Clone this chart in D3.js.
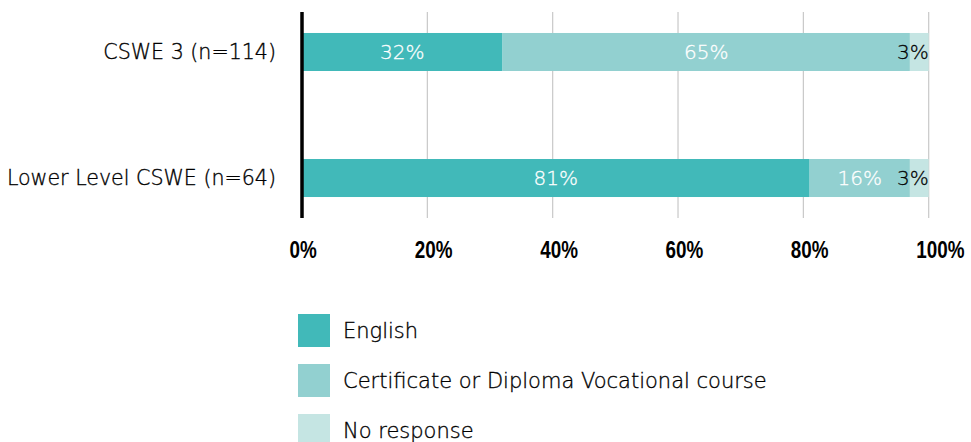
<!DOCTYPE html>
<html>
<head>
<meta charset="utf-8">
<script src="https://cdn.jsdelivr.net/npm/d3@7"></script>
<style>
  html, body { margin: 0; padding: 0; background: #fff; }
  svg { display: block; }
</style>
</head>
<body>
<svg id="chart" width="971" height="442"></svg>
<script>
// Study pathway by CSWE level (percent of respondents)
const categories = ["CSWE 3 (n=114)", "Lower Level CSWE (n=64)"];
const seriesNames = ["English", "Certificate or Diploma Vocational course", "No response"];
const english = [32, 81];
const vocational = [65, 16];
const noResponse = [3, 3];
const tickValues = [0, 20, 40, 60, 80, 100];
const tickLabels = ["0%", "20%", "40%", "60%", "80%", "100%"];
const colors = ["#41b9b9", "#92d0d0", "#c5e5e3"];

const labelFont = "'DejaVu Sans', 'Noto Sans', sans-serif";
const tickFont = "'Liberation Sans', Arial, sans-serif";

const svg = d3.select("#chart");

const rows = categories.map((c, i) => ({
  category: c,
  English: english[i],
  "Certificate or Diploma Vocational course": vocational[i],
  "No response": noResponse[i]
}));

const stacked = d3.stack().keys(seriesNames)(rows);

const x = d3.scaleLinear().domain([0, 100]).range([302, 928.7]);
const y = d3.scaleBand()
  .domain(categories)
  .range([12, 218])
  .paddingInner(88 / 126)
  .paddingOuter(0.1665);

// vertical gridlines
svg.append("g")
  .selectAll("line")
  .data(tickValues.filter(v => v > 0))
  .join("line")
  .attr("x1", d => x(d)).attr("x2", d => x(d))
  .attr("y1", 12).attr("y2", 218)
  .attr("stroke", "#c8c8c8")
  .attr("stroke-width", 1.2);

// stacked bars
const layers = svg.append("g")
  .selectAll("g")
  .data(stacked)
  .join("g")
  .attr("fill", (d, i) => colors[i]);

layers.selectAll("rect")
  .data(d => d)
  .join("rect")
  .attr("x", d => x(d[0]))
  .attr("width", d => x(d[1]) - x(d[0]))
  .attr("y", d => y(d.data.category))
  .attr("height", y.bandwidth());

// value labels: small segments get a dark label flush with the segment end
layers.each(function (layer) {
  d3.select(this).selectAll("text")
    .data(layer)
    .join("text")
    .attr("x", d => (d[1] - d[0]) < 5 ? x(d[1]) : x((d[0] + d[1]) / 2))
    .attr("y", d => y(d.data.category) + y.bandwidth() / 2)
    .attr("dy", "0.36em")
    .attr("text-anchor", d => (d[1] - d[0]) < 5 ? "end" : "middle")
    .attr("fill", d => (d[1] - d[0]) < 5 ? "#000" : "#fff")
    .attr("stroke", d => (d[1] - d[0]) < 5 ? "#000" : "#fff")
    .attr("stroke-width", 0.3)
    .attr("font-family", labelFont)
    .attr("font-size", 20)
    .attr("font-weight", 200)
    .text(d => (d[1] - d[0]) + "%");
});

// category axis
const yAxis = svg.append("g")
  .attr("transform", `translate(${x(0)},0)`)
  .call(d3.axisLeft(y).tickSize(0).tickPadding(26));
yAxis.select(".domain").remove();
yAxis.selectAll("text")
  .attr("font-family", labelFont)
  .attr("font-size", 20.6)
  .attr("font-weight", 200)
  .attr("fill", "#000")
  .attr("stroke", "#000")
  .attr("stroke-width", 0.35);

svg.append("line")
  .attr("x1", x(0)).attr("x2", x(0))
  .attr("y1", 12).attr("y2", 218)
  .attr("stroke", "#000")
  .attr("stroke-width", 3.5);

// percentage axis (condensed bold labels)
const xAxis = svg.append("g")
  .attr("transform", "translate(0,218)")
  .call(d3.axisBottom(x).tickValues(tickValues).tickFormat((d, i) => tickLabels[i]).tickSize(0).tickPadding(0));
xAxis.select(".domain").remove();
xAxis.selectAll("text")
  .attr("text-anchor", "start")
  .attr("transform", "scale(0.82,1)")
  .attr("x", -13 / 0.82)
  .attr("y", 40)
  .attr("dy", 0)
  .attr("font-family", tickFont)
  .attr("font-size", 23)
  .attr("font-weight", "bold")
  .attr("fill", "#000");

// legend
const legend = svg.append("g")
  .selectAll("g")
  .data(seriesNames)
  .join("g")
  .attr("transform", (d, i) => `translate(298,${314 + i * 50})`);
legend.append("rect")
  .attr("width", 32).attr("height", 33)
  .attr("fill", (d, i) => colors[i]);
legend.append("text")
  .attr("x", 45).attr("y", 16.5).attr("dy", "0.36em")
  .attr("font-family", labelFont)
  .attr("font-size", 21)
  .attr("font-weight", 200)
  .attr("fill", "#000")
  .attr("stroke", "#000")
  .attr("stroke-width", 0.35)
  .text(d => d);
</script>
</body>
</html>
